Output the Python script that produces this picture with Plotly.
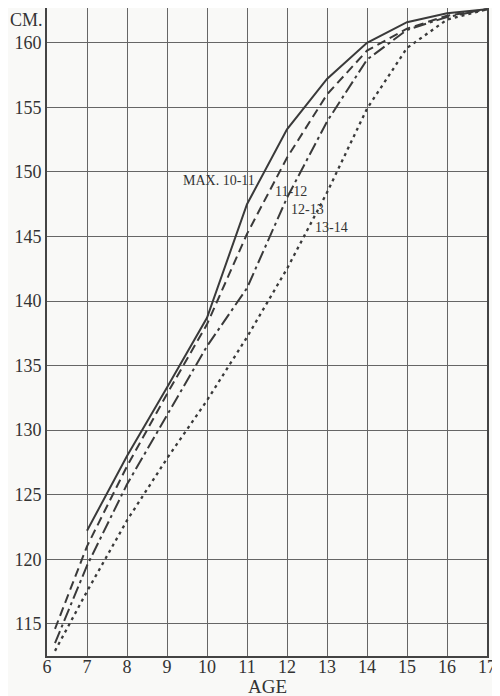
import plotly.graph_objects as go

# Ages (x) and stature in cm (y) for each group
ages_max_10_11 = [7, 8, 9, 10, 11, 12, 13, 14, 15, 16, 17]
cm_max_10_11 = [122.2, 128.0, 133.3, 138.7, 147.5, 153.3, 157.2, 160.0, 161.6, 162.3, 162.6]

ages_11_12 = [6.2, 7, 8, 9, 10, 11, 12, 13, 14, 15, 16, 17]
cm_11_12 = [114.6, 121.0, 127.2, 132.8, 138.2, 145.2, 151.1, 156.0, 159.4, 161.1, 162.1, 162.6]

ages_12_13 = [6.2, 7, 8, 9, 10, 11, 12, 13, 14, 15, 16, 17]
cm_12_13 = [113.5, 119.5, 125.8, 131.1, 136.5, 141.0, 148.0, 153.9, 158.7, 161.0, 162.0, 162.6]

ages_13_14 = [6.2, 7, 8, 9, 10, 11, 12, 13, 14, 15, 16, 17]
cm_13_14 = [112.9, 117.5, 123.0, 127.8, 132.3, 137.2, 142.5, 148.4, 154.9, 159.6, 161.8, 162.6]

x_ticks = list(range(6, 18))
y_ticks = list(range(115, 161, 5))

series = [
    ("MAX. 10-11", ages_max_10_11, cm_max_10_11, "solid", 2),
    ("11-12", ages_11_12, cm_11_12, "9px,5px", 2),
    ("12-13", ages_12_13, cm_12_13, "13px,4px,3px,4px", 2),
    ("13-14", ages_13_14, cm_13_14, "3px,4px", 2.3),
]

# label positions (data coords)
label_pos = {
    "MAX. 10-11": (10.3, 149.3),
    "11-12": (12.1, 148.5),
    "12-13": (12.5, 147.1),
    "13-14": (13.1, 145.7),
}

line_color = "#3a3a3a"
font_family = "Liberation Serif, Times New Roman, serif"

fig = go.Figure()
for name, xs, ys, dash, w in series:
    fig.add_trace(go.Scatter(
        x=xs, y=ys, mode="lines", name=name,
        line=dict(color=line_color, width=w, dash=dash),
        showlegend=False,
    ))

for name, (lx, ly) in label_pos.items():
    fig.add_annotation(x=lx, y=ly, text=name, showarrow=False,
                       font=dict(family=font_family, size=14, color="#333"),
                       xanchor="center", yanchor="middle")

fig.add_annotation(xref="paper", yref="paper", x=-0.0886, y=1.0, text="CM.",
                   showarrow=False, xanchor="left", yanchor="top",
                   font=dict(family=font_family, size=18, color="#333"))
fig.add_annotation(xref="paper", yref="paper", x=0.5, y=-0.028, text="AGE",
                   showarrow=False, xanchor="center", yanchor="top",
                   font=dict(family=font_family, size=19, color="#333"))

fig.update_xaxes(range=[6, 17], tickvals=x_ticks, ticktext=[str(t) for t in x_ticks],
                 showgrid=True, gridcolor="#666", gridwidth=1.2,
                 showline=True, mirror=True, linecolor="#444", linewidth=2,
                 ticks="", ticklen=0, zeroline=False, automargin=False,
                 ticklabelstandoff=-7,
                 tickfont=dict(family=font_family, size=18, color="#333"))
fig.update_yaxes(range=[112.5, 162.7], tickvals=y_ticks, ticktext=[str(t) for t in y_ticks],
                 showgrid=True, gridcolor="#666", gridwidth=1.2,
                 showline=True, mirror=True, linecolor="#444", linewidth=2,
                 ticks="", ticklen=0, zeroline=False, automargin=False,
                 tickfont=dict(family=font_family, size=18, color="#333"))

# page body has an 8px margin; size the figure to fill the rest of the window
fig.update_layout(
    width=492, height=688,
    margin=dict(l=39, r=13, t=0, b=40, autoexpand=False),
    paper_bgcolor="#f9f9f7", plot_bgcolor="#f9f9f7",
    showlegend=False,
)

fig.write_html("out.html")
